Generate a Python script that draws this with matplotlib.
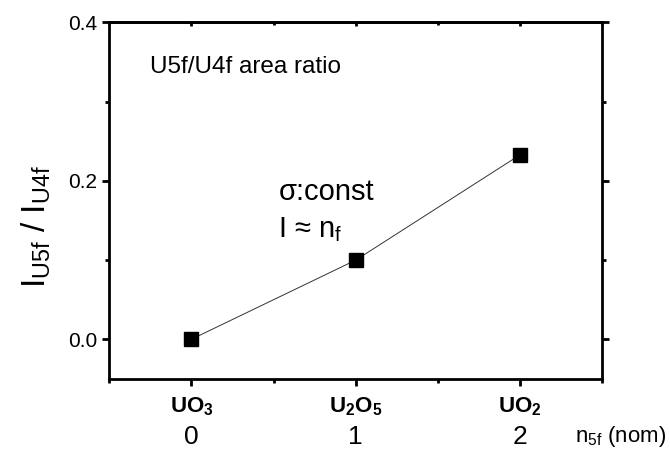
import matplotlib
matplotlib.use("Agg")
import matplotlib.pyplot as plt
from matplotlib.ticker import MultipleLocator

plt.rcParams['font.family'] = ['Liberation Sans', 'DejaVu Sans']
plt.rcParams['mathtext.fontset'] = 'custom'
plt.rcParams['mathtext.rm'] = 'Liberation Sans'
plt.rcParams['mathtext.it'] = 'Liberation Sans'
plt.rcParams['mathtext.bf'] = 'Liberation Sans:bold'

n5f = [0, 1, 2]
ratio = [0.0, 0.1, 0.233]
compounds = [r'$\mathbf{UO_3}$', r'$\mathbf{U_2O_5}$', r'$\mathbf{UO_2}$']

fig = plt.figure(figsize=(6.7, 4.5), dpi=100)
ax = fig.add_axes([0.163, 0.158, 0.736, 0.792])

ax.plot(n5f, ratio, color='#333333', lw=0.7, marker='s', ms=10,
        mfc='black', mec='black')

ax.set_xlim(-0.5, 2.5)
ax.set_ylim(-0.05, 0.4)
ax.xaxis.set_major_locator(MultipleLocator(1))
ax.xaxis.set_minor_locator(MultipleLocator(0.5))
ax.yaxis.set_major_locator(MultipleLocator(0.2))
ax.yaxis.set_minor_locator(MultipleLocator(0.1))
ax.yaxis.set_major_formatter(plt.FormatStrFormatter('%.1f'))

for s in ax.spines.values():
    s.set_linewidth(2)

ax.tick_params(axis='both', which='major', direction='out', length=5, width=2)
ax.tick_params(axis='both', which='minor', direction='out', length=3, width=2)
ax.tick_params(axis='y', which='both', right=True, labelsize=15)
ax.tick_params(axis='x', which='major', labelsize=19, pad=28)

top = ax.secondary_xaxis('top')
top.xaxis.set_major_locator(MultipleLocator(1))
top.xaxis.set_minor_locator(MultipleLocator(0.5))
top.tick_params(which='major', direction='in', length=3, width=2, labeltop=False)
top.tick_params(which='minor', direction='in', length=2, width=2)
top.spines['top'].set_linewidth(2)

for x, name in zip(n5f, compounds):
    ax.text(x, -0.078, name, transform=ax.get_xaxis_transform(),
            ha='center', va='center', fontsize=16)

ax.text(1.13, -0.177, r'n$_{5f}$ (nom)', transform=ax.transAxes,
        ha='right', va='baseline', fontsize=16)

ax.set_ylabel(r'I$_{\mathregular{U5f}}$ / I$_{\mathregular{U4f}}$', fontsize=24)
ax.yaxis.set_label_coords(-0.115, 0.428)

ax.text(0.083, 0.858, 'U5f/U4f area ratio', transform=ax.transAxes,
        ha='left', va='baseline', fontsize=17.5)
ax.text(0.343, 0.502, 'σ:const', transform=ax.transAxes,
        ha='left', va='baseline', fontsize=21)
ax.text(0.343, 0.398, r'I ≈ n$_f$', transform=ax.transAxes,
        ha='left', va='baseline', fontsize=21)

fig.savefig('out.png', dpi=100)
